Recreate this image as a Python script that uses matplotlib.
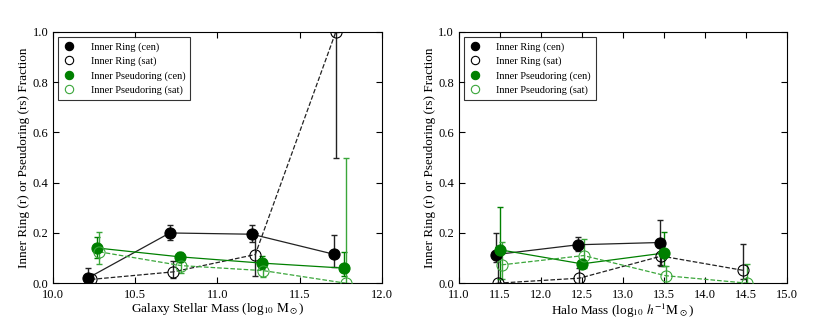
import matplotlib.pyplot as plt

plt.rcParams['font.family'] = ['Liberation Serif', 'DejaVu Serif']
plt.rcParams['mathtext.fontset'] = 'stix'

# ---------------------------
# Data: stellar mass panel
# ---------------------------
sm_ring_cen_x = [10.21, 10.71, 11.21, 11.71]
sm_ring_cen_y = [0.02, 0.20, 0.195, 0.115]
sm_ring_cen_lo = [0.02, 0.03, 0.03, 0.05]
sm_ring_cen_hi = [0.04, 0.03, 0.035, 0.078]

sm_ring_sat_x = [10.23, 10.73, 11.23, 11.72]
sm_ring_sat_y = [0.015, 0.045, 0.114, 1.0]
sm_ring_sat_lo = [0.015, 0.023, 0.085, 0.5]
sm_ring_sat_hi = [0.02, 0.045, 0.085, 0.0]

sm_ps_cen_x = [10.27, 10.77, 11.27, 11.77]
sm_ps_cen_y = [0.14, 0.105, 0.08, 0.06]
sm_ps_cen_lo = [0.04, 0.02, 0.025, 0.03]
sm_ps_cen_hi = [0.045, 0.02, 0.028, 0.065]

sm_ps_sat_x = [10.28, 10.78, 11.28, 11.78]
sm_ps_sat_y = [0.125, 0.07, 0.05, 0.0]
sm_ps_sat_lo = [0.05, 0.03, 0.025, 0.0]
sm_ps_sat_hi = [0.08, 0.03, 0.03, 0.5]

# ---------------------------
# Data: halo mass panel
# ---------------------------
hm_ring_cen_x = [11.45, 12.45, 13.45]
hm_ring_cen_y = [0.114, 0.153, 0.162]
hm_ring_cen_lo = [0.03, 0.023, 0.09]
hm_ring_cen_hi = [0.086, 0.03, 0.089]

hm_ring_sat_x = [11.47, 12.47, 13.47, 14.47]
hm_ring_sat_y = [0.0, 0.02, 0.108, 0.051]
hm_ring_sat_lo = [0.0, 0.02, 0.04, 0.036]
hm_ring_sat_hi = [0.145, 0.04, 0.035, 0.104]

hm_ps_cen_x = [11.5, 12.5, 13.5]
hm_ps_cen_y = [0.133, 0.077, 0.12]
hm_ps_cen_lo = [0.118, 0.017, 0.05]
hm_ps_cen_hi = [0.17, 0.013, 0.085]

hm_ps_sat_x = [11.52, 12.52, 13.52, 14.52]
hm_ps_sat_y = [0.073, 0.11, 0.03, 0.0]
hm_ps_sat_lo = [0.058, 0.05, 0.03, 0.0]
hm_ps_sat_hi = [0.09, 0.065, 0.04, 0.077]

labels = ['Inner Ring (cen)', 'Inner Ring (sat)',
          'Inner Pseudoring (cen)', 'Inner Pseudoring (sat)']

ring_col = '#222222'
ps_cen_col = 'green'
ps_sat_col = '#3aa63a'


def draw_panel(ax, series):
    styles = [
        dict(color=ring_col, mfc='black', mec='black', ls='-'),
        dict(color=ring_col, mfc='none', mec='black', ls='--'),
        dict(color=ps_cen_col, mfc='green', mec='green', ls='-'),
        dict(color=ps_sat_col, mfc='none', mec=ps_sat_col, ls='--'),
    ]
    handles = []
    for (x, y, lo, hi), st, lab in zip(series, styles, labels):
        ax.errorbar(x, y, yerr=[lo, hi], fmt='none', ecolor=st['color'],
                    elinewidth=1, capsize=2, capthick=1, zorder=2)
        ax.plot(x, y, ls=st['ls'], color=st['color'], lw=0.9, zorder=3)
        h, = ax.plot(x, y, ls='none', marker='o', ms=8, mfc=st['mfc'],
                     mec=st['mec'], mew=0.8, zorder=4)
        handles.append(h)
    leg = ax.legend(handles, labels, loc='upper left', fontsize=7.5,
                    frameon=True, fancybox=False, numpoints=1,
                    markerscale=0.75,
                    handlelength=1.0, handletextpad=1.6, borderpad=0.5,
                    labelspacing=0.45, borderaxespad=0.5)
    leg.get_frame().set_edgecolor('black')
    leg.get_frame().set_linewidth(0.8)
    ax.set_ylim(0, 1.0)
    ax.set_yticks([0.0, 0.2, 0.4, 0.6, 0.8, 1.0])
    ax.set_ylabel('Inner Ring (r) or Pseudoring (rs) Fraction', fontsize=9.5,
                  labelpad=2)
    ax.tick_params(direction='in', top=True, right=True, labelsize=9,
                   length=4)
    ax.tick_params(axis='x', pad=4.5)


fig = plt.figure(figsize=(8.3, 3.2), dpi=100)
ax1 = fig.add_axes([0.064, 0.115, 0.396, 0.785])
ax2 = fig.add_axes([0.553, 0.115, 0.395, 0.785])

draw_panel(ax1, [
    (sm_ring_cen_x, sm_ring_cen_y, sm_ring_cen_lo, sm_ring_cen_hi),
    (sm_ring_sat_x, sm_ring_sat_y, sm_ring_sat_lo, sm_ring_sat_hi),
    (sm_ps_cen_x, sm_ps_cen_y, sm_ps_cen_lo, sm_ps_cen_hi),
    (sm_ps_sat_x, sm_ps_sat_y, sm_ps_sat_lo, sm_ps_sat_hi),
])
ax1.set_xlim(10.0, 12.0)
ax1.set_xticks([10.0, 10.5, 11.0, 11.5, 12.0])
ax1.set_xlabel(r'Galaxy Stellar Mass (log$_{10}$ $\mathrm{M}_\odot$)',
               fontsize=9.5, labelpad=0)

draw_panel(ax2, [
    (hm_ring_cen_x, hm_ring_cen_y, hm_ring_cen_lo, hm_ring_cen_hi),
    (hm_ring_sat_x, hm_ring_sat_y, hm_ring_sat_lo, hm_ring_sat_hi),
    (hm_ps_cen_x, hm_ps_cen_y, hm_ps_cen_lo, hm_ps_cen_hi),
    (hm_ps_sat_x, hm_ps_sat_y, hm_ps_sat_lo, hm_ps_sat_hi),
])
ax2.set_xlim(11.0, 15.0)
ax2.set_xticks([11.0, 11.5, 12.0, 12.5, 13.0, 13.5, 14.0, 14.5, 15.0])
ax2.set_xlabel(r'Halo Mass (log$_{10}$ $h^{-1}\mathrm{M}_\odot$)',
               fontsize=9.5, labelpad=0)

fig.savefig('out.png', dpi=100)
